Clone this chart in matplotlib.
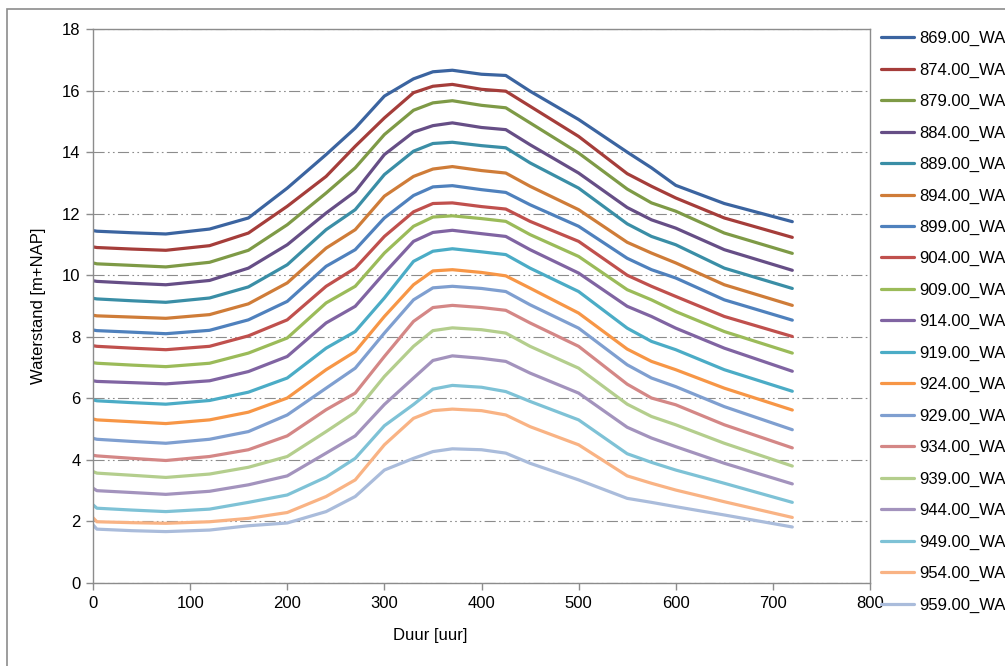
import numpy as np
import matplotlib
matplotlib.use('Agg')
import matplotlib.pyplot as plt
from matplotlib.patches import Rectangle

plt.rcParams['font.family'] = ['Liberation Sans', 'DejaVu Sans']

# duur [uur]
t = [0, 4, 40, 75, 120, 160, 200, 240, 270, 300, 330, 350, 370,
     400, 425, 450, 500, 550, 575, 600, 650, 720]

names = ['869.00_WA', '874.00_WA', '879.00_WA', '884.00_WA', '889.00_WA',
         '894.00_WA', '899.00_WA', '904.00_WA', '909.00_WA', '914.00_WA',
         '919.00_WA', '924.00_WA', '929.00_WA', '934.00_WA', '939.00_WA',
         '944.00_WA', '949.00_WA', '954.00_WA', '959.00_WA']

ws869 = [11.45, 11.43, 11.38, 11.34, 11.50, 11.86, 12.83, 13.92, 14.78, 15.82, 16.38, 16.61, 16.66,
         16.53, 16.49, 15.98, 15.06, 14.00, 13.49, 12.92, 12.33, 11.74]
ws874 = [10.92, 10.90, 10.85, 10.81, 10.96, 11.37, 12.24, 13.21, 14.19, 15.11, 15.93, 16.14, 16.20,
         16.04, 15.98, 15.49, 14.51, 13.30, 12.89, 12.51, 11.86, 11.23]
ws879 = [10.40, 10.37, 10.32, 10.27, 10.42, 10.81, 11.64, 12.67, 13.49, 14.57, 15.36, 15.60, 15.67,
         15.52, 15.44, 14.95, 13.97, 12.80, 12.35, 12.08, 11.37, 10.71]
ws884 = [9.82, 9.80, 9.74, 9.69, 9.83, 10.23, 10.99, 12.02, 12.72, 13.92, 14.65, 14.86, 14.95,
         14.80, 14.73, 14.24, 13.32, 12.20, 11.80, 11.53, 10.83, 10.16]
ws889 = [9.25, 9.23, 9.17, 9.12, 9.26, 9.62, 10.34, 11.48, 12.13, 13.27, 14.03, 14.28, 14.32,
         14.21, 14.14, 13.65, 12.83, 11.67, 11.26, 10.99, 10.23, 9.57]
ws894 = [8.70, 8.68, 8.64, 8.60, 8.72, 9.07, 9.75, 10.88, 11.48, 12.57, 13.21, 13.45, 13.53,
         13.40, 13.32, 12.89, 12.13, 11.07, 10.72, 10.40, 9.69, 9.02]
ws899 = [8.22, 8.20, 8.15, 8.10, 8.21, 8.55, 9.15, 10.29, 10.83, 11.86, 12.59, 12.87, 12.91,
         12.78, 12.69, 12.29, 11.59, 10.55, 10.18, 9.91, 9.20, 8.54]
ws904 = [7.71, 7.69, 7.63, 7.58, 7.69, 8.03, 8.55, 9.64, 10.23, 11.26, 12.06, 12.33, 12.35,
         12.23, 12.15, 11.75, 11.10, 10.00, 9.64, 9.31, 8.66, 8.01]
ws909 = [7.16, 7.14, 7.08, 7.03, 7.14, 7.47, 7.96, 9.10, 9.64, 10.72, 11.59, 11.89, 11.93,
         11.84, 11.75, 11.32, 10.61, 9.53, 9.20, 8.82, 8.17, 7.47]
ws914 = [6.57, 6.55, 6.51, 6.47, 6.57, 6.87, 7.36, 8.45, 8.99, 10.07, 11.10, 11.39, 11.46,
         11.35, 11.26, 10.83, 10.07, 8.99, 8.66, 8.28, 7.63, 6.88]
ws919 = [5.95, 5.92, 5.86, 5.81, 5.93, 6.20, 6.66, 7.63, 8.17, 9.26, 10.45, 10.78, 10.86,
         10.76, 10.67, 10.23, 9.47, 8.28, 7.85, 7.58, 6.93, 6.23]
ws924 = [5.33, 5.30, 5.24, 5.18, 5.30, 5.55, 6.01, 6.93, 7.52, 8.66, 9.69, 10.14, 10.18,
         10.09, 9.98, 9.58, 8.77, 7.60, 7.20, 6.93, 6.33, 5.62]
ws929 = [4.70, 4.67, 4.60, 4.54, 4.67, 4.92, 5.46, 6.33, 6.98, 8.12, 9.20, 9.59, 9.64,
         9.57, 9.47, 9.04, 8.28, 7.09, 6.66, 6.38, 5.73, 4.98]
ws934 = [4.15, 4.13, 4.05, 3.98, 4.11, 4.33, 4.78, 5.63, 6.17, 7.36, 8.50, 8.95, 9.02,
         8.95, 8.86, 8.45, 7.69, 6.46, 6.01, 5.79, 5.14, 4.39]
ws939 = [3.62, 3.57, 3.50, 3.43, 3.54, 3.76, 4.11, 4.92, 5.55, 6.71, 7.69, 8.20, 8.29,
         8.23, 8.12, 7.69, 6.98, 5.81, 5.41, 5.14, 4.54, 3.80]
ws944 = [3.08, 3.00, 2.94, 2.88, 2.98, 3.19, 3.48, 4.22, 4.78, 5.80, 6.66, 7.23, 7.38,
         7.30, 7.20, 6.82, 6.17, 5.06, 4.71, 4.43, 3.89, 3.22]
ws949 = [2.54, 2.43, 2.37, 2.32, 2.40, 2.62, 2.86, 3.44, 4.05, 5.11, 5.80, 6.30, 6.42,
         6.36, 6.22, 5.90, 5.30, 4.20, 3.92, 3.67, 3.24, 2.62]
ws954 = [2.12, 1.99, 1.96, 1.94, 1.99, 2.10, 2.29, 2.81, 3.35, 4.49, 5.35, 5.60, 5.65,
         5.60, 5.46, 5.08, 4.49, 3.48, 3.24, 3.02, 2.64, 2.13]
ws959 = [1.89, 1.75, 1.70, 1.67, 1.72, 1.86, 1.95, 2.32, 2.81, 3.67, 4.05, 4.27, 4.36,
         4.33, 4.22, 3.89, 3.35, 2.75, 2.62, 2.48, 2.21, 1.82]

series = [ws869, ws874, ws879, ws884, ws889, ws894, ws899, ws904, ws909, ws914,
          ws919, ws924, ws929, ws934, ws939, ws944, ws949, ws954, ws959]

colors = ['#3B64A0', '#A53D3A', '#7E9A46', '#664E86', '#3A8EA6', '#CF7C38',
          '#4F81BD', '#C0504D', '#9BBB59', '#8064A2', '#4BACC6', '#F79646',
          '#7F9FD0', '#D48786', '#B4CE8D', '#A393BD', '#7EC2D6', '#F9B384',
          '#AABCDB']

fig = plt.figure(figsize=(10.05, 6.66), dpi=100)
ax = fig.add_axes([93/1005, 83/666, 777/1005, 554/666])

for y, c, n in zip(series, colors, names):
    ax.plot(t, y, color=c, lw=2.3, label=n, solid_capstyle='round',
            solid_joinstyle='round')

ax.set_xlim(0, 800)
ax.set_ylim(0, 18)
ax.set_xticks(np.arange(0, 801, 100))
ax.set_yticks(np.arange(0, 19, 2))
ax.tick_params(direction='out', length=5, width=1, color='#8c8c8c',
               labelsize=12, pad=4)
for s in ax.spines.values():
    s.set_color('#8c8c8c')
    s.set_linewidth(1)

ax.yaxis.grid(True, color='#8c8c8c', lw=0.8, linestyle=(0, (10, 3, 1.5, 3, 1.5, 3)))
ax.set_axisbelow(True)

ax.set_xlabel('Duur [uur]', fontsize=12)
ax.set_ylabel('Waterstand [m+NAP]', fontsize=12)
ax.xaxis.set_label_coords((430 - 93) / 777, (583 - 628) / 554)
ax.yaxis.set_label_coords((46 - 93) / 777, 0.5)

fig.legend(loc='upper left', bbox_to_anchor=(881/1005, 1 - 31/666), frameon=False,
           fontsize=12, handlelength=2.0, handletextpad=0.3, labelspacing=0.98,
           borderaxespad=0, borderpad=0)

# outer chart frame
fig.patches.append(Rectangle((7/1005, -0.1), 1.2, 1.1 - 9/666,
                             transform=fig.transFigure, fill=False,
                             edgecolor='#8c8c8c', lw=1.2))

fig.savefig('out.png', dpi=100)
